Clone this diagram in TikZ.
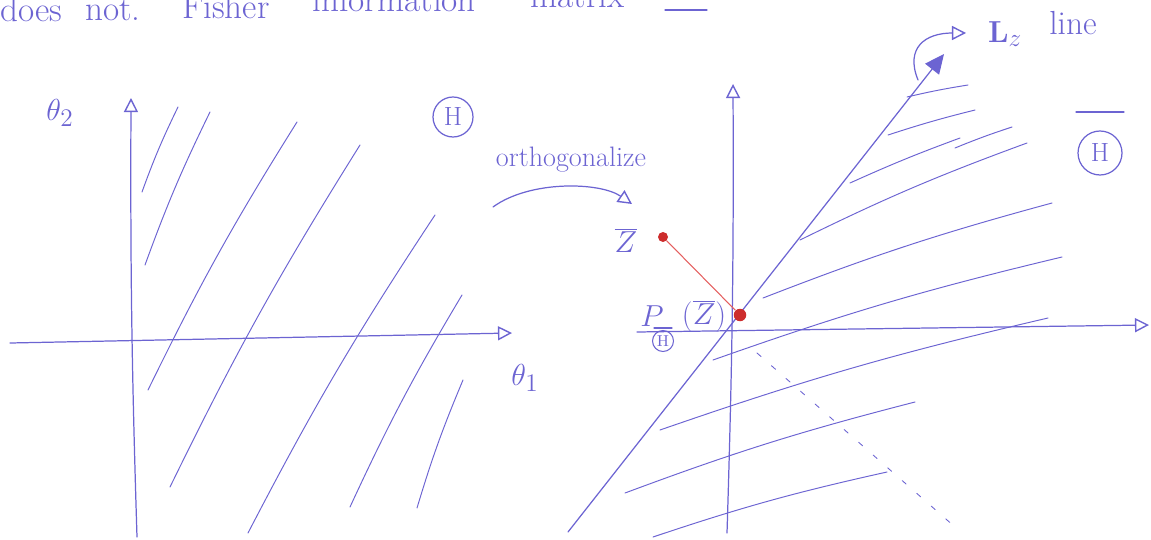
\documentclass[tikz,border=0pt]{standalone}
\usetikzlibrary{arrows.meta}
\definecolor{pen}{RGB}{108,100,210}
\definecolor{redpen}{RGB}{205,45,45}
\definecolor{redline}{RGB}{228,95,95}
\begin{document}
\begin{tikzpicture}[x=0.02cm,y=-0.02cm,
  ink/.style={draw=pen, line width=0.7pt, line cap=round},
  hatch/.style={draw=pen, line width=0.55pt, line cap=round},
  openhead/.style={-{Triangle[open,length=8pt,width=8pt,line width=0.8pt]}},
  fullhead/.style={-{Triangle[length=11pt,width=10pt]}},
  txt/.style={text=pen, inner sep=0pt},
  toptxt/.style={txt, anchor=base west, font=\fontsize{20}{24}\selectfont},
  lbl/.style={txt, font=\fontsize{19}{22}\selectfont},
  circH/.style={circle, draw=pen, line width=0.7pt, text=pen, inner sep=0pt, font=\fontsize{15}{18}\selectfont},
  dot/.style={circle, fill=redpen, inner sep=0pt}]
\useasboundingbox (0,0) rectangle (1151,540);
\clip (0,0) rectangle (1151,540);

% top line of handwriting, cut off at the top edge
\node[toptxt] (t1) at (0,22) {does};
\node[toptxt] (t2) at (85,21) {not.};
\node[toptxt] (t3) at (182,19) {Fisher};
\node[toptxt] (t4) at (312,12) {information};
\node[toptxt] (t5) at (530,8) {matrix};
\coordinate (u1) at (665,10); \coordinate (u2) at (707,10);
\draw[ink] (u1) -- (u2);

% ---------- left diagram ----------
\coordinate (lxs) at (10,343); \coordinate (lxe) at (512,333);
\coordinate (lys) at (137,537); \coordinate (lye) at (131,98);
\draw[ink,openhead] (lxs) -- (lxe);
\draw[ink,openhead] (lys) to[bend left=1] (lye);
\node[lbl] (th2) at (60,113) {$\theta_2$};
\node[lbl] (th1) at (525,378) {$\theta_1$};
\node[circH, minimum size=0.8cm] (H) at (453,117) {H};

\draw[hatch] (142,192) to[bend left=3] (178,107);
\draw[hatch] (145,265) to[bend left=3] (210,112);
\draw[hatch] (148,390) to[bend left=3] (297,122);
\draw[hatch] (170,487) to[bend left=3] (360,145);
\draw[hatch] (248,533) to[bend left=3] (435,215);
\draw[hatch] (350,507) to[bend left=3] (462,295);
\draw[hatch] (417,508) to[bend left=3] (463,380);

% orthogonalize arrow
\node[txt, font=\fontsize{16}{19}\selectfont] (orth) at (571,160) {orthogonalize};
\coordinate (oa) at (493,207); \coordinate (ob) at (632,204);
\draw[ink,openhead] (oa) .. controls (530,180) and (600,182) .. (ob);

% ---------- right diagram ----------
\coordinate (rxs) at (637,332); \coordinate (rxe) at (1149,325);
\coordinate (rys) at (727,533); \coordinate (rye) at (733,84);
\draw[ink,openhead] (rxs) -- (rxe);
\draw[ink,openhead] (rys) to[bend right=1] (rye);

% L_z line
\coordinate (ls) at (568,532); \coordinate (le) at (944,54);
\draw[ink,fullhead] (ls) -- (le);
\coordinate (ra) at (918,80); \coordinate (rb) at (966,33);
\draw[ink,openhead] (ra) .. controls (905,48) and (925,33) .. (rb);
\node[lbl, font=\fontsize{19}{22}\selectfont] (Lz) at (1005,34) {$\mathbf{L}_{z}$};
\node[lbl] (line) at (1073,23) {line};

% hatching of H-bar
\draw[hatch] (907,97) to[bend left=2] (968,85);
\draw[hatch] (888,135) to[bend left=2] (975,110);
\draw[hatch] (850,183) to[bend left=2] (960,138);
\draw[hatch] (955,148) to[bend left=2] (1012,127);
\draw[hatch] (800,240) to[bend left=3] (1027,143);
\draw[hatch] (763,298) to[bend left=3] (1052,203);
\draw[hatch] (713,360) to[bend left=3] (1062,257);
\draw[hatch] (660,430) to[bend left=3] (1048,318);
\draw[hatch] (625,493) to[bend left=3] (915,402);
\draw[hatch] (653,537) to[bend left=3] (887,472);

% dashed normal direction
\coordinate (da) at (757,353); \coordinate (db) at (955,527);
\draw[hatch, line width=0.5pt, dash pattern=on 3pt off 8pt] (da) -- (db);

% H-bar label
\node[circH, minimum size=0.88cm] (Hb) at (1100,153) {H};
\coordinate (hb1) at (1076,112); \coordinate (hb2) at (1124,112);
\draw[ink] (hb1) -- (hb2);

% Z-bar and its projection
\node[lbl] (Z) at (626,240) {$\overline{Z}$};
\node[dot, minimum size=0.2cm] (zdot) at (663,237) {};
\node[dot, minimum size=0.25cm] (pdot) at (740,315) {};
\draw[redline, line width=0.6pt] (zdot) -- (pdot);

% P label
\node[lbl] (P) at (652,316) {$P$};
\node[circle, draw=pen, line width=0.6pt, text=pen, inner sep=0pt, minimum size=0.42cm, font=\fontsize{9}{10}\selectfont] (Hs) at (663,341) {H};
\coordinate (pb1) at (654,328); \coordinate (pb2) at (672,328);
\draw[ink] (pb1) -- (pb2);
\node[lbl] (PZ) at (704,316) {$(\overline{Z})$};
\end{tikzpicture}
\end{document}
